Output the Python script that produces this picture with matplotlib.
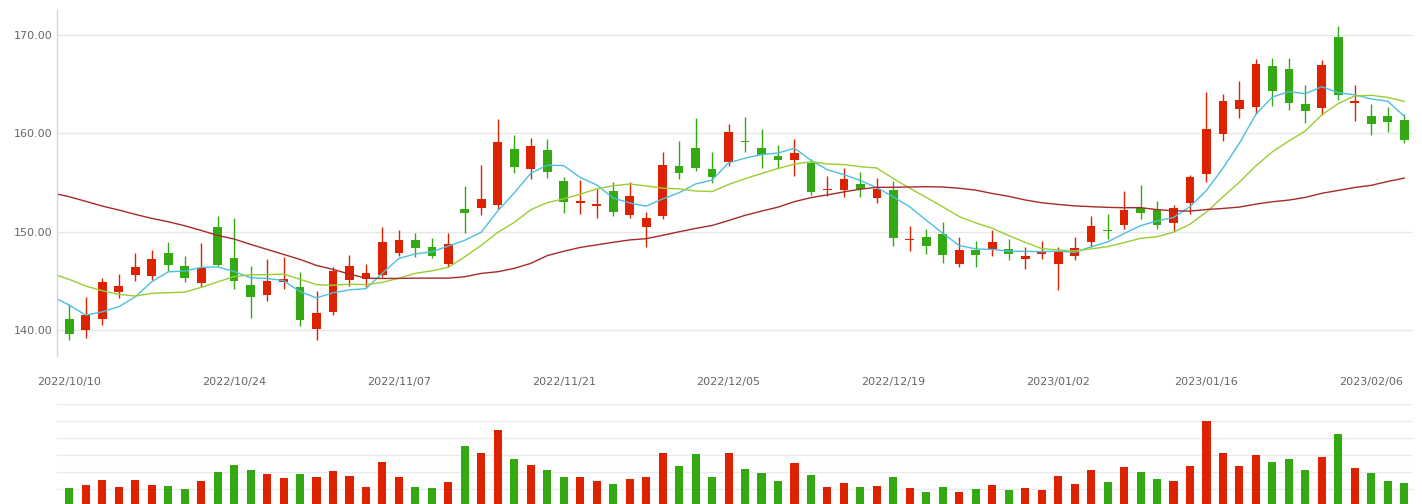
import matplotlib
matplotlib.use("Agg")
import matplotlib.pyplot as plt
from matplotlib.ticker import FixedLocator, FuncFormatter

# ---------------- data ----------------
opens = [141.14, 140.02, 141.14, 143.88, 145.61, 145.51, 147.85, 146.52, 144.80, 150.49,
         147.34, 144.59, 143.61, 144.90, 144.39, 140.16, 141.88, 145.14, 145.20, 145.61,
         147.85, 149.17, 148.46, 146.73, 152.32, 152.45, 152.76, 158.41, 156.42, 158.31,
         155.16, 152.96, 152.66, 154.15, 151.74, 150.52, 151.64, 156.69, 158.52, 156.38,
         157.13, 159.23, 158.52, 157.70, 157.33, 157.03, 154.25, 154.25, 154.86, 153.43,
         154.25, 149.13, 149.47, 149.78, 146.76, 148.15, 148.29, 148.25, 147.27, 147.78,
         146.76, 147.57, 149.00, 150.08, 150.73, 152.45, 152.22, 150.93, 152.96, 155.84,
         159.97, 162.51, 162.72, 166.85, 166.54, 162.99, 162.62, 169.80, 163.12, 161.77,
         161.77, 161.36]
closes = [139.65, 141.54, 144.90, 144.49, 146.42, 147.24, 146.63, 145.34, 146.32, 146.63,
          145.00, 143.41, 145.00, 145.20, 141.07, 141.75, 146.02, 146.52, 145.81, 148.96,
          149.17, 148.35, 147.54, 148.76, 151.94, 153.33, 159.13, 156.62, 158.72, 156.11,
          153.06, 153.13, 152.83, 152.05, 153.64, 151.40, 156.79, 156.01, 156.52, 155.60,
          160.14, 159.16, 157.84, 157.33, 158.01, 154.04, 154.35, 155.37, 154.32, 154.35,
          149.37, 149.27, 148.59, 147.68, 148.15, 147.68, 148.96, 147.78, 147.54, 147.98,
          147.95, 148.35, 150.59, 150.05, 152.22, 151.94, 150.73, 152.38, 155.57, 160.45,
          163.29, 163.39, 167.05, 164.34, 163.12, 162.31, 166.95, 163.94, 163.29, 160.99,
          161.19, 159.36]
highs = [142.66, 143.41, 145.34, 145.71, 147.85, 148.15, 148.96, 147.54, 148.86, 151.61,
         151.40, 146.52, 147.24, 147.44, 145.91, 143.98, 146.42, 147.64, 146.73, 150.49,
         150.18, 149.88, 149.37, 149.88, 154.65, 156.82, 161.46, 159.84, 159.53, 159.43,
         155.60, 155.26, 154.38, 155.06, 155.06, 152.01, 158.11, 159.23, 161.57, 158.11,
         160.96, 161.67, 160.45, 158.82, 159.43, 157.40, 155.70, 156.48, 156.08, 155.47,
         155.16, 150.59, 150.28, 151.00, 149.47, 149.07, 150.18, 149.27, 148.46, 149.07,
         148.46, 149.47, 151.61, 151.81, 154.15, 154.76, 153.13, 152.72, 155.81, 164.21,
         164.00, 165.33, 167.56, 167.66, 167.66, 164.92, 167.46, 170.91, 164.92, 162.99,
         162.68, 162.01]
lows = [139.04, 139.24, 140.53, 143.31, 145.00, 145.10, 146.02, 144.93, 144.39, 146.52,
        144.22, 141.27, 143.00, 144.22, 140.46, 139.04, 141.58, 144.53, 144.42, 145.41,
        147.54, 147.44, 147.34, 146.42, 149.91, 151.74, 152.35, 156.01, 155.40, 155.50,
        151.94, 151.84, 151.44, 151.64, 151.44, 148.46, 151.33, 155.40, 156.21, 154.99,
        156.72, 158.14, 156.52, 156.45, 155.70, 153.74, 153.64, 153.54, 153.54, 152.93,
        148.56, 148.08, 147.78, 146.86, 146.46, 146.46, 147.57, 147.17, 146.25, 147.27,
        144.12, 147.17, 148.49, 149.27, 150.32, 151.33, 150.32, 150.08, 151.84, 155.09,
        159.26, 161.60, 162.01, 162.82, 162.41, 161.09, 161.87, 163.43, 161.29, 159.87,
        160.18, 159.06]
volumes = [1.01, 1.19, 1.49, 1.07, 1.49, 1.19, 1.13, 0.95, 1.43, 1.96,
           2.38, 2.08, 1.85, 1.61, 1.85, 1.67, 2.02, 1.73, 1.07, 2.56,
           1.67, 1.07, 1.01, 1.37, 3.51, 3.10, 4.46, 2.74, 2.38, 2.08,
           1.67, 1.67, 1.43, 1.25, 1.55, 1.67, 3.10, 2.32, 3.04, 1.67,
           3.10, 2.14, 1.90, 1.43, 2.50, 1.79, 1.07, 1.31, 1.07, 1.13,
           1.67, 1.01, 0.83, 1.07, 0.83, 0.95, 1.19, 0.89, 1.01, 0.89,
           1.73, 1.25, 2.08, 1.37, 2.26, 1.96, 1.55, 1.43, 2.32, 5.00,
           3.10, 2.32, 2.98, 2.56, 2.74, 2.08, 2.86, 4.23, 2.20, 1.90,
           1.43, 1.31]
# moving averages; first value belongs to the trading day before the visible window
ma5 = [143.40, 142.56, 141.54, 141.88, 142.39, 143.40, 144.92, 145.94, 146.02, 146.39, 146.43,
       145.98, 145.34, 145.27, 145.05, 143.94, 143.29, 143.81, 144.11, 144.23, 145.81,
       147.30, 147.76, 147.97, 148.56, 149.15, 149.98, 152.14, 153.96, 155.95, 156.78,
       156.73, 155.53, 154.77, 153.44, 152.94, 152.61, 153.34, 153.98, 154.87, 155.26,
       157.01, 157.49, 157.85, 158.01, 158.50, 157.28, 156.31, 155.82, 155.22, 154.49,
       153.55, 152.54, 151.18, 149.85, 148.61, 148.27, 148.21, 148.05, 148.02, 147.99,
       148.04, 147.92, 148.48, 148.98, 149.83, 150.63, 151.11, 151.46, 152.57, 154.21,
       156.48, 159.02, 161.95, 163.70, 164.24, 164.04, 164.75, 164.13, 163.92, 163.50,
       163.27, 161.75]
ma10 = [145.73, 145.17, 144.49, 144.02, 143.65, 143.48, 143.75, 143.82, 143.88, 144.36, 144.92,
        145.45, 145.64, 145.65, 145.72, 145.18, 144.64, 144.57, 144.69, 144.64, 144.87,
        145.29, 145.79, 146.04, 146.40, 147.48, 148.64, 149.95, 150.96, 152.25, 152.97,
        153.36, 153.83, 154.36, 154.69, 154.86, 154.67, 154.44, 154.37, 154.15, 154.10,
        154.81, 155.41, 155.92, 156.44, 156.88, 157.14, 156.90, 156.84, 156.62, 156.49,
        155.41, 154.43, 153.50, 152.54, 151.55, 150.91, 150.37, 149.62, 148.94, 148.30,
        148.16, 148.07, 148.27, 148.50, 148.91, 149.34, 149.51, 149.97, 150.78, 152.02,
        153.56, 155.06, 156.71, 158.14, 159.23, 160.26, 161.89, 163.04, 163.81, 163.87,
        163.66, 163.25]
ma30 = [153.94, 153.57, 153.10, 152.62, 152.22, 151.78, 151.37, 151.03, 150.62, 150.15, 149.64,
        149.27, 148.73, 148.22, 147.71, 147.20, 146.59, 146.19, 145.71, 145.30, 145.27,
        145.27, 145.30, 145.30, 145.30, 145.44, 145.78, 145.95, 146.29, 146.80, 147.59,
        148.03, 148.42, 148.68, 148.94, 149.18, 149.31, 149.65, 150.01, 150.35, 150.65,
        151.15, 151.68, 152.11, 152.51, 153.07, 153.48, 153.76, 154.06, 154.34, 154.52,
        154.53, 154.56, 154.59, 154.56, 154.43, 154.24, 153.90, 153.61, 153.24, 152.96,
        152.79, 152.64, 152.56, 152.49, 152.45, 152.46, 152.26, 152.14, 152.11, 152.27,
        152.38, 152.52, 152.82, 153.06, 153.23, 153.50, 153.92, 154.21, 154.51, 154.73,
        155.12, 155.46]
tick_index = [0, 10, 20, 30, 40, 50, 60, 69, 79]
tick_labels = ["2022/10/10", "2022/10/24", "2022/11/07", "2022/11/21", "2022/12/05",
               "2022/12/19", "2023/01/02", "2023/01/16", "2023/02/06"]
price_ticks = [140, 150, 160, 170]

# ---------------- style ----------------
UP = "#dd2200"
DOWN = "#33aa11"
C_MA5 = "#4cbfe0"
C_MA10 = "#9acd32"
C_MA30 = "#a52a2a"
TXT = "#666666"

W, H = 1422, 504
fig = plt.figure(figsize=(W / 100, H / 100), dpi=100)
fig.patch.set_facecolor("white")

def frac_x(px):
    return px / W

def frac_y(py):
    return 1 - py / H

L, R = 57.3, 1413.0
ax = fig.add_axes([frac_x(L), frac_y(355.7), frac_x(R - L), (355.7 - 10) / H])
axv = fig.add_axes([frac_x(L), frac_y(505.5), frac_x(R - L), (505.5 - 404.3) / H])

n = len(closes)
x = list(range(n))
xm = list(range(-1, n))
colors = [UP if c >= o else DOWN for o, c in zip(opens, closes)]

# wicks
ax.vlines(x, lows, highs, colors=colors, linewidth=1.0, zorder=3)
# bodies
bottoms = [min(o, c) for o, c in zip(opens, closes)]
heights = [max(abs(c - o), 0.1) for o, c in zip(opens, closes)]
ax.bar(x, heights, bottom=bottoms, width=0.53, color=colors, linewidth=0, zorder=4)

# moving averages
ax.plot(xm, ma5, color=C_MA5, linewidth=1.0, zorder=5)
ax.plot(xm, ma10, color=C_MA10, linewidth=1.0, zorder=5)
ax.plot(xm, ma30, color=C_MA30, linewidth=1.0, zorder=5)

ax.set_xlim(-0.728, 81.53)
ax.set_ylim(137.42, 172.54)
ax.yaxis.set_major_locator(FixedLocator(price_ticks))
ax.yaxis.set_major_formatter(FuncFormatter(lambda v, p: f"{v:.2f}"))
ax.set_xticks(tick_index)
ax.set_xticklabels(tick_labels)
ax.grid(axis="y", color="#e8e8e8", linewidth=1.0, zorder=0)
ax.set_axisbelow(True)
for s in ["top", "right", "bottom"]:
    ax.spines[s].set_visible(False)
ax.spines["left"].set_color("#ccd6eb")
ax.spines["left"].set_linewidth(1.0)
ax.spines["left"].set_zorder(6)
ax.tick_params(axis="y", length=0, pad=3.5, labelsize=8, labelcolor=TXT)
ax.tick_params(axis="x", length=0, pad=15, labelsize=8, labelcolor=TXT)

# volume
axv.bar(x, volumes, width=0.49, color=colors, linewidth=0, zorder=3)
axv.set_xlim(-0.728, 81.53)
axv.set_ylim(0, 6)
axv.set_yticks([1, 2, 3, 4, 5, 6])
axv.grid(axis="y", color="#e6ebf3", linewidth=1.0, zorder=0)
axv.set_axisbelow(True)
axv.set_xticks([])
axv.tick_params(axis="y", length=0, labelleft=False)
for s in ["top", "right", "bottom", "left"]:
    axv.spines[s].set_visible(False)

fig.savefig("out.png", dpi=100, facecolor="white")
